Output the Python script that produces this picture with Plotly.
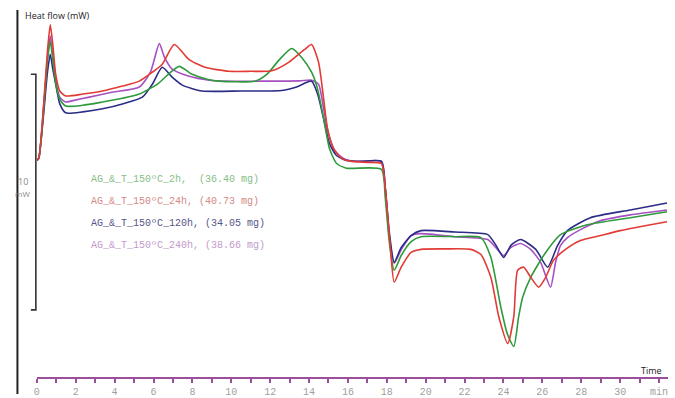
import plotly.graph_objects as go

# ---- data (time in min, heat flow in mW) ----
red_t = [0, 0.1, 0.35, 0.55, 0.69, 0.82, 0.97, 1.18, 1.48, 2.36, 3.38, 4.40, 5.27, 5.94, 6.45, 7.07, 7.83, 8.65, 9.88, 11.0, 12.08, 12.95, 13.77, 14.13, 14.49, 14.75, 14.95, 15.26, 15.67, 16.2, 17.0, 17.72, 17.82, 17.97, 18.18, 18.38, 18.74, 19.25, 19.76, 21.0, 22.32, 22.84, 23.35, 23.76, 24.22, 24.53, 24.73, 25.04, 25.4, 25.81, 26.17, 26.57, 27.19, 27.96, 28.98, 30.0, 31.28, 32.41]
red_y = [1.60, 1.70, 4.0, 6.3, 7.38, 6.54, 5.27, 4.56, 4.35, 4.43, 4.56, 4.77, 4.98, 5.36, 5.70, 6.54, 5.90, 5.57, 5.40, 5.40, 5.42, 5.78, 6.33, 6.54, 5.78, 4.22, 2.95, 2.11, 1.69, 1.56, 1.52, 1.48, 1.20, 0.0, -2.10, -3.59, -2.95, -2.32, -2.19, -2.17, -2.19, -2.41, -3.38, -5.06, -6.20, -5.06, -3.08, -2.95, -3.38, -3.80, -3.38, -2.66, -2.19, -1.81, -1.60, -1.39, -1.18, -1.01]

purple_t = [0, 0.1, 0.35, 0.55, 0.69, 0.82, 0.97, 1.18, 1.48, 1.85, 2.7, 3.8, 5.27, 5.84, 6.30, 6.55, 6.96, 7.83, 8.86, 9.52, 11.5, 13.5, 14.13, 14.49, 14.75, 15.0, 15.31, 15.77, 16.43, 17.72, 17.92, 18.13, 18.38, 18.74, 19.25, 19.76, 21.5, 23.19, 23.6, 24.01, 24.37, 24.88, 25.4, 25.91, 26.42, 26.68, 26.93, 27.29, 27.96, 28.98, 30.52, 32.41]
purple_y = [1.6, 1.7, 3.9, 6.0, 6.9, 6.1, 5.0, 4.3, 4.09, 4.15, 4.30, 4.50, 4.73, 5.36, 6.58, 6.03, 5.49, 5.19, 5.02, 4.98, 4.98, 4.99, 5.02, 4.85, 3.80, 2.74, 2.03, 1.69, 1.56, 1.56, 0.42, -1.69, -2.78, -2.20, -1.60, -1.52, -1.65, -1.77, -2.11, -2.45, -2.11, -1.94, -2.19, -2.74, -3.80, -2.74, -2.03, -1.69, -1.35, -0.97, -0.72, -0.51]

blue_t = [0, 0.1, 0.35, 0.55, 0.69, 0.82, 0.97, 1.18, 1.48, 2.36, 3.38, 4.40, 5.43, 5.94, 6.45, 6.96, 7.48, 8.50, 10.5, 12.6, 13.36, 14.13, 14.44, 14.75, 15.05, 15.41, 15.92, 16.69, 17.72, 17.92, 18.13, 18.38, 18.74, 19.25, 19.76, 21.5, 23.19, 23.6, 24.01, 24.4, 24.88, 25.66, 26.27, 26.78, 27.29, 28.47, 30.52, 32.41]
blue_y = [1.6, 1.7, 3.6, 5.4, 6.12, 5.5, 4.85, 4.01, 3.63, 3.67, 3.80, 4.01, 4.30, 4.85, 5.57, 5.15, 4.81, 4.56, 4.56, 4.58, 4.73, 4.98, 4.43, 3.38, 2.32, 1.81, 1.60, 1.56, 1.56, 0.42, -1.48, -2.74, -2.11, -1.60, -1.39, -1.45, -1.56, -2.0, -2.53, -2.0, -1.77, -2.19, -2.95, -2.03, -1.39, -0.84, -0.51, -0.21]

green_t = [0, 0.1, 0.35, 0.55, 0.69, 0.82, 0.97, 1.18, 1.48, 2.36, 3.38, 4.40, 5.27, 6.2, 6.8, 7.32, 7.99, 8.76, 9.37, 11.21, 11.83, 12.49, 13.11, 13.62, 14.13, 14.44, 14.75, 15.05, 15.41, 15.92, 17.72, 17.92, 18.13, 18.38, 18.74, 19.25, 19.76, 21.5, 22.84, 23.35, 23.86, 24.2, 24.53, 24.78, 24.99, 25.40, 26.17, 26.93, 28.3, 30.52, 32.41]
green_y = [1.6, 1.7, 3.8, 5.9, 6.67, 5.9, 4.9, 4.2, 3.92, 3.95, 4.09, 4.25, 4.43, 4.85, 5.3, 5.61, 5.27, 5.06, 4.98, 4.98, 5.27, 5.91, 6.37, 5.99, 5.36, 4.64, 3.38, 2.11, 1.48, 1.27, 1.22, 0.0, -1.90, -3.08, -2.45, -1.86, -1.65, -1.65, -1.69, -2.53, -4.64, -5.8, -6.33, -5.06, -4.22, -3.38, -2.32, -1.56, -1.14, -0.84, -0.59]

legend_labels = [
    "AG_&_T_150ºC_2h,  (36.40 mg)",
    "AG_&_T_150ºC_24h, (40.73 mg)",
    "AG_&_T_150ºC_120h, (34.05 mg)",
    "AG_&_T_150ºC_240h, (38.66 mg)",
]
tick_vals = list(range(0, 33))
tick_text = [str(v) if v % 2 == 0 else "" for v in range(0, 32)] + ["min"]

W, H = 675, 398
C_RED, C_GREEN, C_BLUE, C_PURPLE = "#e23b35", "#2f9a3c", "#2b2c86", "#a651c2"

fig = go.Figure()
for t, y, c in [(purple_t, purple_y, C_PURPLE), (blue_t, blue_y, C_BLUE),
                (green_t, green_y, C_GREEN), (red_t, red_y, C_RED)]:
    fig.add_trace(go.Scatter(x=t, y=y, mode="lines",
                             line=dict(color=c, width=1.6, shape="spline", smoothing=0.6),
                             showlegend=False, hoverinfo="skip"))

# axes: x from px 34 (t=0) at 19.53 px/min
x0px, x1px = 34, 668
fig.update_layout(
    width=W, height=H, margin=dict(l=0, r=0, t=0, b=0),
    paper_bgcolor="white", plot_bgcolor="white",
    xaxis=dict(domain=[x0px / W, x1px / W], range=[0, (x1px - x0px) / 19.53],
               anchor="free", position=1 - 382 / H,
               showline=True, linecolor="#9b4f9b", linewidth=1.5,
               ticks="outside", ticklen=4, tickwidth=1.5, tickcolor="#9b4f9b",
               tickmode="array", tickvals=tick_vals, ticktext=tick_text,
               tickfont=dict(family="Liberation Mono", size=10, color="#a0a0a0"),
               showgrid=False, zeroline=False),
    yaxis=dict(domain=[0, 1], range=[(200 - H) / 23.7, 200 / 23.7], visible=False,
               showgrid=False, zeroline=False),
)

shapes = []
# left vertical black line
shapes.append(dict(type="line", xref="paper", yref="paper", x0=14.5 / W, x1=14.5 / W,
                   y0=1 - 10 / H, y1=0, line=dict(color="#222", width=2)))
# scale bar (10 mW)
shapes.append(dict(type="path", xref="paper", yref="paper",
                   path=f"M {28/W} {1-75/H} L {33/W} {1-75/H} L {33/W} {1-313/H} L {28/W} {1-313/H}",
                   line=dict(color="#333", width=1.6)))
fig.update_layout(shapes=shapes)

ann = []
ann.append(dict(text="Heat flow (mW)", x=20 / W, y=1 - 16 / H, xref="paper", yref="paper",
                xanchor="left", yanchor="middle", showarrow=False,
                font=dict(family="Open Sans", size=9, color="#222")))
ann.append(dict(text="Time", x=664 / W, y=1 - 374 / H, xref="paper", yref="paper",
                xanchor="right", yanchor="middle", showarrow=False,
                font=dict(family="Open Sans", size=9, color="#222")))
ann.append(dict(text="10", x=20 / W, y=1 - 183 / H, xref="paper", yref="paper",
                xanchor="center", yanchor="middle", showarrow=False,
                font=dict(family="Open Sans", size=9, color="#888")))
ann.append(dict(text="mW", x=20 / W, y=1 - 195 / H, xref="paper", yref="paper",
                xanchor="center", yanchor="middle", showarrow=False,
                font=dict(family="Open Sans", size=8, color="#888")))
leg_colors = ["#86be86", "#d48a86", "#55558a", "#c29bcb"]
leg_y = [181, 204, 226, 248]
for lab, c, py in zip(legend_labels, leg_colors, leg_y):
    ann.append(dict(text=lab, x=86 / W, y=1 - py / H, xref="paper", yref="paper",
                    xanchor="left", yanchor="middle", showarrow=False,
                    font=dict(family="Liberation Mono", size=10, color=c)))
fig.update_layout(annotations=ann)

fig.write_html("out.html")
